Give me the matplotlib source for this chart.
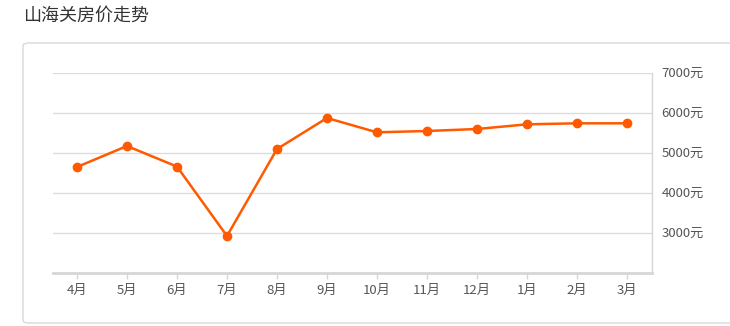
import matplotlib
matplotlib.use('Agg')
import matplotlib.pyplot as plt
from matplotlib.patches import FancyBboxPatch

plt.rcParams['font.family'] = ['Noto Sans CJK SC', 'DejaVu Sans']

title = '山海关房价走势'
months = ['4月', '5月', '6月', '7月', '8月', '9月', '10月', '11月', '12月', '1月', '2月', '3月']
prices = [4650, 5175, 4660, 2925, 5100, 5875, 5517, 5550, 5600, 5717, 5742, 5742]
yticks = [3000, 4000, 5000, 6000, 7000]
ytick_labels = ['%d元' % v for v in yticks]

W, H = 730, 326
fig = plt.figure(figsize=(W / 100, H / 100), dpi=100)

# outer card, behind the axes
card = FancyBboxPatch((23 / W, 3 / H), 740 / W, 280 / H,
                      boxstyle='round,pad=0,rounding_size=0.008',
                      transform=fig.transFigure, facecolor='white',
                      edgecolor='#d9d9d9', linewidth=1.0, zorder=-5)
fig.patches.append(card)

fig.text(23 / W, 1 - 16 / H, title, fontsize=13, color='#333333', va='center', ha='left')

ax = fig.add_axes([53 / W, (H - 273) / H, 599 / W, 200 / H])
ax.set_zorder(2)
ax.set_facecolor('none')
x = list(range(len(months)))
ax.plot(x, prices, color='#ff5a00', linewidth=1.8, marker='o', markersize=6,
        markerfacecolor='#ff5a00', markeredgecolor='#ff5a00', zorder=3)

ax.set_xlim(-0.48, 11.5)
ax.set_ylim(2000, 7000)
ax.set_xticks(x)
ax.set_xticklabels(months)
ax.set_yticks(yticks)
ax.set_yticklabels(ytick_labels)
ax.yaxis.tick_right()
ax.grid(axis='y', color='#dcdcdc', linewidth=1)
ax.set_axisbelow(True)

for s in ['top', 'left']:
    ax.spines[s].set_visible(False)
ax.spines['bottom'].set_color('#d6d6d6')
ax.spines['bottom'].set_linewidth(2)
ax.spines['right'].set_color('#d6d6d6')
ax.spines['right'].set_linewidth(1)

ax.tick_params(axis='x', colors='#d6d6d6', length=4, width=1, labelcolor='#555555',
               labelsize=9.5, pad=4)
ax.tick_params(axis='y', length=0, labelcolor='#555555', labelsize=9.5, pad=7)
for lbl in ax.get_yticklabels():
    lbl.set_verticalalignment('center')

fig.savefig('out.png', dpi=100)
